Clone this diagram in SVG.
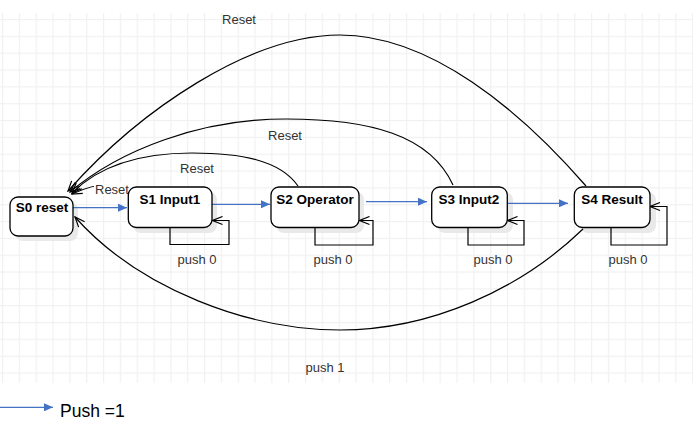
<svg xmlns="http://www.w3.org/2000/svg" width="698" height="430" viewBox="0 0 698 430">
<style>
.node rect.box{fill:#fff;stroke:#000;stroke-width:1.3}
.sh{fill:#e9e9e9}
.nt{font-family:"Liberation Sans",Arial,sans-serif;font-weight:bold;font-size:13.5px;fill:#000;text-anchor:middle}
.lbl{font-family:"Liberation Sans",Arial,sans-serif;font-size:13px;fill:#333;text-anchor:middle}
.c{fill:none;stroke:#000;stroke-width:1.2}
.b{fill:none;stroke:#4472c4;stroke-width:1.2}
</style>
<defs>
<pattern id="grid" x="2" y="2.17" width="16.83" height="16.83" patternUnits="userSpaceOnUse">
<path d="M0 0.6H16.83M0.6 0V16.83" fill="none" stroke="#f1f1f1" stroke-width="1.3"/>
</pattern>
<marker id="open" viewBox="0 0 12 10" refX="11" refY="5" markerWidth="12" markerHeight="10" orient="auto" markerUnits="userSpaceOnUse">
<path d="M1,1 L11,5 L1,9" fill="none" stroke="#000" stroke-width="1.2"/>
</marker>
<marker id="blue" viewBox="0 0 9 8" refX="9" refY="4" markerWidth="9" markerHeight="8" orient="auto" markerUnits="userSpaceOnUse">
<path d="M0,0 L9,4 L0,8 Z" fill="#4472c4"/>
</marker>
</defs>
<rect x="0" y="13" width="693" height="370" fill="url(#grid)"/>

<g id="shadows">
<rect class="sh" x="15" y="202" width="63" height="39" rx="8"/>
<rect class="sh" x="133" y="192" width="84" height="41" rx="8"/>
<rect class="sh" x="276" y="192" width="88" height="41" rx="8"/>
<rect class="sh" x="437" y="192" width="76" height="41" rx="8"/>
<rect class="sh" x="580" y="192" width="76" height="41" rx="8"/>
</g>

<g id="connectors">
<path class="c" d="M586,186 C520,110 430,35 340,35 C250,35 140,110 68,191" marker-end="url(#open)"/>
<path class="c" d="M453,185 C430,135 370,119 286,119 C200,119 120,150 70,192" marker-end="url(#open)"/>
<path class="c" d="M298,186 C280,160 240,153 192,153 C140,153 100,165 72,193" marker-end="url(#open)"/>
<path class="c" d="M130,190 C118,183 100,181 72,194" marker-end="url(#open)"/>
<path class="c" d="M583,229 C520,290 430,330 340,330 C250,330 140,290 75,217" marker-end="url(#open)"/>
<path class="c" d="M170,227 V244.5 H229 V220.5 H212.5" marker-end="url(#open)"/>
<path class="c" d="M315,227 V245 H373 V220.5 H359.5" marker-end="url(#open)"/>
<path class="c" d="M468,227 V245 H524 V220.5 H507.5" marker-end="url(#open)"/>
<path class="c" d="M611,227 V245 H667 V206.5 H650" marker-end="url(#open)"/>
<path class="b" d="M68,207.7 H127" marker-end="url(#blue)"/>
<path class="b" d="M212,204.3 H270" marker-end="url(#blue)"/>
<path class="b" d="M366,201.7 H427" marker-end="url(#blue)"/>
<path class="b" d="M507,203.3 H568" marker-end="url(#blue)"/>
<path class="b" d="M0,407.3 H53" marker-end="url(#blue)"/>
<text class="lbl" x="239" y="23.5">Reset</text>
<text class="lbl" x="285" y="139.5">Reset</text>
<text class="lbl" x="197" y="173">Reset</text>
<rect x="94" y="183" width="36" height="12" fill="#fff"/>
<text class="lbl" x="95" y="194" style="text-anchor:start">Reset</text>
<text class="lbl" x="197" y="264">push 0</text>
<text class="lbl" x="333" y="264">push 0</text>
<text class="lbl" x="493" y="264">push 0</text>
<text class="lbl" x="628" y="264">push 0</text>
<text class="lbl" x="325" y="371.5">push 1</text>
<text x="60" y="417" style="font-family:'Liberation Sans',Arial,sans-serif;font-size:17.5px;fill:#000">Push =1</text>
</g>

<g id="s0" class="node">
<rect class="box" x="10" y="197" width="63" height="39" rx="8"/>
<text class="nt" x="42" y="212">S0 reset</text>
</g>
<g id="s1" class="node">
<rect class="box" x="128.3" y="187" width="83.7" height="40.5" rx="8"/>
<text class="nt" x="170" y="204">S1 Input1</text>
</g>
<g id="s2" class="node">
<rect class="box" x="271" y="187" width="88" height="40.5" rx="8"/>
<text class="nt" x="315" y="204">S2 Operator</text>
</g>
<g id="s3" class="node">
<rect class="box" x="431.7" y="187" width="75.6" height="40.5" rx="8"/>
<text class="nt" x="469" y="204">S3 Input2</text>
</g>
<g id="s4" class="node">
<rect class="box" x="574.3" y="187" width="75.7" height="40.5" rx="8"/>
<text class="nt" x="612" y="204">S4 Result</text>
</g>
</svg>
